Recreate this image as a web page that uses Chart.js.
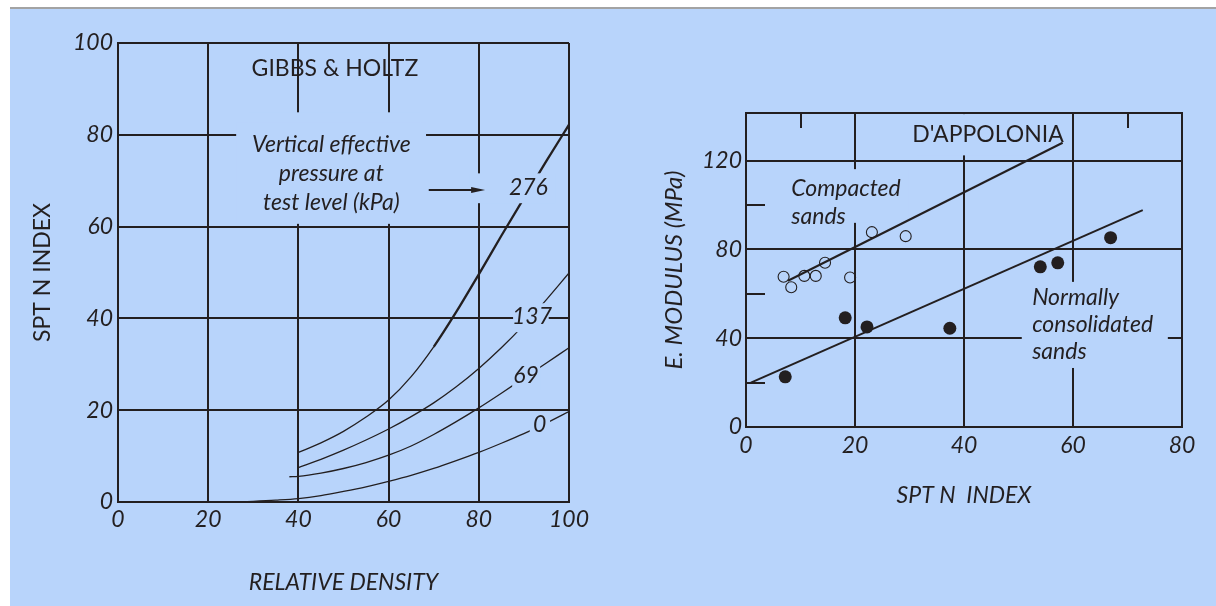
<!DOCTYPE html>
<html><head><meta charset="utf-8">
<script src="https://cdn.jsdelivr.net/npm/chart.js@4"></script>
<style>
html,body{margin:0;padding:0;background:#fff;width:1216px;height:606px;overflow:hidden;}
#rule{position:absolute;left:10px;top:7px;width:1206px;height:2px;background:#a3a3a3;}
#panel{position:absolute;left:10px;top:9px;width:1206px;height:597px;background:rgb(184,212,251);}
#c1{position:absolute;left:0;top:0;}
#c2{position:absolute;left:600px;top:0;}
</style></head><body>
<div id="rule"></div><div id="panel"></div>
<canvas id="c1" width="600" height="606"></canvas>
<canvas id="c2" width="616" height="606"></canvas>
<script>
// ---------- Left panel: Gibbs & Holtz (SPT N vs relative density) ----------
const pressureLabels = ['276', '137', '69', '0'];          // kPa
const rd276 = [40, 45, 50, 55, 60, 65, 70, 75, 80, 85, 90, 95, 100];
const n276  = [10.8, 12.9, 15.4, 18.5, 22.2, 27.3, 33.8, 41.4, 49.6, 58.0, 66.2, 74.3, 82.2];
const rd137 = [40, 45, 50, 55, 60, 65, 70, 75, 80, 85, 90, 95, 100];
const n137  = [7.5, 9.3, 11.3, 13.5, 15.9, 18.6, 21.6, 25.1, 29.1, 33.6, 38.6, 44.1, 49.9];
const rd69  = [38, 40, 45, 50, 55, 60, 65, 70, 75, 80, 85, 90, 95, 100];
const n69   = [5.5, 5.6, 6.3, 7.3, 8.6, 10.2, 12.2, 14.7, 17.5, 20.5, 23.7, 27.0, 30.3, 33.6];
const rd0   = [26, 30, 35, 40, 45, 50, 55, 60, 65, 70, 75, 80, 85, 90, 95, 100];
const n0    = [0, 0.15, 0.4, 0.75, 1.4, 2.3, 3.3, 4.5, 5.8, 7.3, 9.0, 10.8, 12.8, 14.9, 17.2, 19.7];
const densityTicks = [0, 20, 40, 60, 80, 100];
const sptTicksLeft = [0, 20, 40, 60, 80, 100];

// ---------- Right panel: D'Appolonia (E modulus vs SPT N) ----------
const compactedN = [6.9, 8.3, 10.7, 12.8, 14.5, 19.1, 23.1, 29.3];
const compactedE = [67.7, 63.0, 68.1, 68.1, 74.0, 67.4, 87.8, 86.0];
const normalN    = [7.2, 18.2, 22.2, 37.4, 54.0, 57.2, 66.9];
const normalE    = [22.6, 49.2, 45.1, 44.5, 72.2, 74.0, 85.3];
const compactedFitN = [7.7, 58.1];
const compactedFitE = [65.9, 128.1];
const normalFitN    = [0.9, 72.8];
const normalFitE    = [20.0, 97.7];
const sptTicksRight = [0, 20, 40, 60, 80];
const modulusTicks  = [0, 40, 80, 120];

const INK = '#231f20';
const BG = 'rgb(184,212,251)';
const FAM = 'Lato, "Open Sans", sans-serif';
const pts = (xs, ys) => xs.map((x, i) => ({x, y: ys[i]}));

// annotation plugin (labels with background masks, frame, minor ticks, arrow)
const notes = {
  id: 'notes',
  drawItems(chart, layer) {
    const o = chart.options.plugins.notes || {};
    const {ctx, scales: {x, y}} = chart;
    ctx.save();
    (o.masks || []).filter(m => m.layer === layer).forEach(m => {
      const x0 = x.getPixelForValue(m.x0), x1 = x.getPixelForValue(m.x1);
      const y0 = y.getPixelForValue(m.y0), y1 = y.getPixelForValue(m.y1);
      ctx.fillStyle = BG;
      ctx.fillRect(Math.min(x0, x1), Math.min(y0, y1), Math.abs(x1 - x0), Math.abs(y1 - y0));
    });
    if (layer === 'under') {
      const a = chart.chartArea;
      ctx.strokeStyle = INK; ctx.lineWidth = 2;
      if (o.frame) ctx.strokeRect(a.left, a.top, a.right - a.left, a.bottom - a.top);
      (o.ticksTop || []).forEach(v => {
        const px = Math.round(x.getPixelForValue(v));
        ctx.beginPath(); ctx.moveTo(px, a.top); ctx.lineTo(px, a.top + 15); ctx.stroke();
      });
      (o.ticksLeft || []).forEach(v => {
        const py = Math.round(y.getPixelForValue(v));
        ctx.beginPath(); ctx.moveTo(a.left, py); ctx.lineTo(a.left + 19, py); ctx.stroke();
      });
    }
    (o.texts || []).filter(t => t.layer === layer).forEach(t => {
      ctx.fillStyle = INK;
      ctx.font = (t.italic ? 'italic ' : '') + '23px ' + FAM;
      ctx.textAlign = t.align || 'center';
      ctx.textBaseline = 'middle';
      const px = x.getPixelForValue(t.x), py = y.getPixelForValue(t.y);
      t.lines.forEach((s, i) => ctx.fillText(s, px, py + i * (t.lh || 29)));
    });
    (o.arrows || []).filter(t => t.layer === layer).forEach(t => {
      const x0 = x.getPixelForValue(t.x0), x1 = x.getPixelForValue(t.x1), py = Math.round(y.getPixelForValue(t.y));
      ctx.strokeStyle = INK; ctx.fillStyle = INK; ctx.lineWidth = 2;
      ctx.beginPath(); ctx.moveTo(x0, py); ctx.lineTo(x1 - 12, py); ctx.stroke();
      ctx.beginPath(); ctx.moveTo(x1, py); ctx.lineTo(x1 - 14, py - 3); ctx.lineTo(x1 - 14, py + 3); ctx.closePath(); ctx.fill();
    });
    ctx.restore();
  },
  beforeDatasetsDraw(chart) { this.drawItems(chart, 'under'); },
  afterDatasetsDraw(chart) { this.drawItems(chart, 'over'); }
};
Chart.register(notes);

const tickFont = {family: FAM, size: 23, style: 'italic'};
const gridOpt = {color: INK, lineWidth: 2, drawTicks: false};
const borderOpt = {color: INK, width: 2};

// ----- Left chart -----
const curve = (xs, ys, lbl, thick) => ({
  label: lbl + ' kPa', data: pts(xs, ys), borderColor: INK, borderWidth: 1.3,
  pointRadius: 0, cubicInterpolationMode: 'monotone', fill: false,
  segment: thick ? {borderWidth: c => (c.p0.parsed.x >= 70 ? 2.3 : 1.3)} : undefined
});
new Chart(document.getElementById('c1'), {
  type: 'line',
  data: {datasets: [
    curve(rd276, n276, pressureLabels[0], true),
    curve(rd137, n137, pressureLabels[1]),
    curve(rd69, n69, pressureLabels[2]),
    curve(rd0, n0, pressureLabels[3])
  ]},
  options: {
    responsive: false, animation: false, devicePixelRatio: 1,
    layout: {padding: {left: 0, top: 43, right: 31, bottom: 0}},
    scales: {
      x: {type: 'linear', min: 0, max: 100,
        afterBuildTicks: s => { s.ticks = densityTicks.map(v => ({value: v})); },
        afterFit: s => { s.height = 104; },
        grid: gridOpt, border: borderOpt,
        ticks: {font: tickFont, color: INK, padding: 4, maxRotation: 0},
        title: {display: true, text: 'RELATIVE DENSITY', color: INK, font: {family: FAM, size: 23, style: 'italic'}, padding: {top: 0, bottom: 10}}
      },
      y: {type: 'linear', min: 0, max: 100,
        afterBuildTicks: s => { s.ticks = sptTicksLeft.map(v => ({value: v})); },
        afterFit: s => { s.width = 118; },
        grid: gridOpt, border: borderOpt,
        ticks: {font: tickFont, color: INK, padding: 5},
        title: {display: true, text: 'SPT N INDEX', color: INK, font: {family: FAM, size: 23}, padding: {top: 29, bottom: 0}}
      }
    },
    plugins: {
      legend: {display: false}, tooltip: {enabled: false},
      notes: {
        masks: [
          {layer: 'under', x0: 29, x1: 67, y0: 84.9, y1: 77.5},
          {layer: 'under', x0: 26.2, x1: 68.3, y0: 82.6, y1: 60.6},
          {layer: 'over', x0: 78.0, x1: 97.0, y0: 71.6, y1: 65.1},
          {layer: 'over', x0: 87.6, x1: 95.5, y0: 43.3, y1: 37.0},
          {layer: 'over', x0: 87.4, x1: 93.6, y0: 30.3, y1: 24.6},
          {layer: 'over', x0: 91.3, x1: 95.8, y0: 19.6, y1: 14.2}
        ],
        texts: [
          {layer: 'under', x: 48.1, y: 94.4, lines: ['GIBBS & HOLTZ']},
          {layer: 'under', x: 47.3, y: 77.8, lines: ['Vertical effective', 'pressure at', 'test level (kPa)'], italic: true},
          {layer: 'over', x: 91.0, y: 68.6, lines: [pressureLabels[0]], italic: true},
          {layer: 'over', x: 91.8, y: 40.4, lines: [pressureLabels[1]], italic: true},
          {layer: 'over', x: 90.5, y: 27.6, lines: [pressureLabels[2]], italic: true},
          {layer: 'over', x: 93.5, y: 16.8, lines: [pressureLabels[3]], italic: true}
        ],
        arrows: [{layer: 'over', x0: 68.9, x1: 81.4, y: 68.0}]
      }
    }
  }
});

// ----- Right chart -----
new Chart(document.getElementById('c2'), {
  type: 'scatter',
  data: {datasets: [
    {label: 'Compacted sands', data: pts(compactedN, compactedE), pointStyle: 'circle', pointRadius: 5.5,
      backgroundColor: 'rgba(0,0,0,0)', borderColor: INK, borderWidth: 1.1},
    {label: 'Normally consolidated sands', data: pts(normalN, normalE), pointStyle: 'circle', pointRadius: 6.5,
      backgroundColor: INK, borderColor: INK, borderWidth: 0},
    {label: 'Compacted fit', data: pts(compactedFitN, compactedFitE), showLine: true, pointRadius: 0, borderColor: INK, borderWidth: 2},
    {label: 'Normal fit', data: pts(normalFitN, normalFitE), showLine: true, pointRadius: 0, borderColor: INK, borderWidth: 2}
  ]},
  options: {
    responsive: false, animation: false, devicePixelRatio: 1,
    layout: {padding: {left: 0, top: 113, right: 34, bottom: 0}},
    scales: {
      x: {type: 'linear', min: 0, max: 80,
        afterBuildTicks: s => { s.ticks = sptTicksRight.map(v => ({value: v})); },
        afterFit: s => { s.height = 179; },
        grid: gridOpt, border: borderOpt,
        ticks: {font: tickFont, color: INK, padding: 5, maxRotation: 0},
        title: {display: true, text: 'SPT N  INDEX', color: INK, font: {family: FAM, size: 23, style: 'italic'}, padding: {top: 0, bottom: 97}}
      },
      y: {type: 'linear', min: 0, max: 141.5,
        afterBuildTicks: s => { s.ticks = modulusTicks.map(v => ({value: v})); },
        afterFit: s => { s.width = 146; },
        grid: gridOpt, border: borderOpt,
        ticks: {font: tickFont, color: INK, padding: 4},
        title: {display: true, text: 'E. MODULUS (MPa)', color: INK, font: {family: FAM, size: 24, style: 'italic'}, padding: {top: 60, bottom: 0}}
      }
    },
    plugins: {
      legend: {display: false}, tooltip: {enabled: false},
      notes: {
        frame: true,
        ticksTop: [10, 70],
        ticksLeft: [20, 60, 100],
        masks: [
          {layer: 'under', x0: 31.2, x1: 57.6, y0: 141, y1: 122.4},
          {layer: 'under', x0: 7.7, x1: 29.9, y0: 116.2, y1: 92.0},
          {layer: 'under', x0: 50.6, x1: 77.4, y0: 65.4, y1: 26.6}
        ],
        texts: [
          {layer: 'under', x: 44.4, y: 131.6, lines: ["D'APPOLONIA"]},
          {layer: 'under', x: 8.3, y: 107.6, lines: ['Compacted', 'sands'], italic: true, align: 'left', lh: 28},
          {layer: 'under', x: 52.5, y: 58.2, lines: ['Normally', 'consolidated', 'sands'], italic: true, align: 'left', lh: 27}
        ]
      }
    }
  }
});
</script>
</body></html>
